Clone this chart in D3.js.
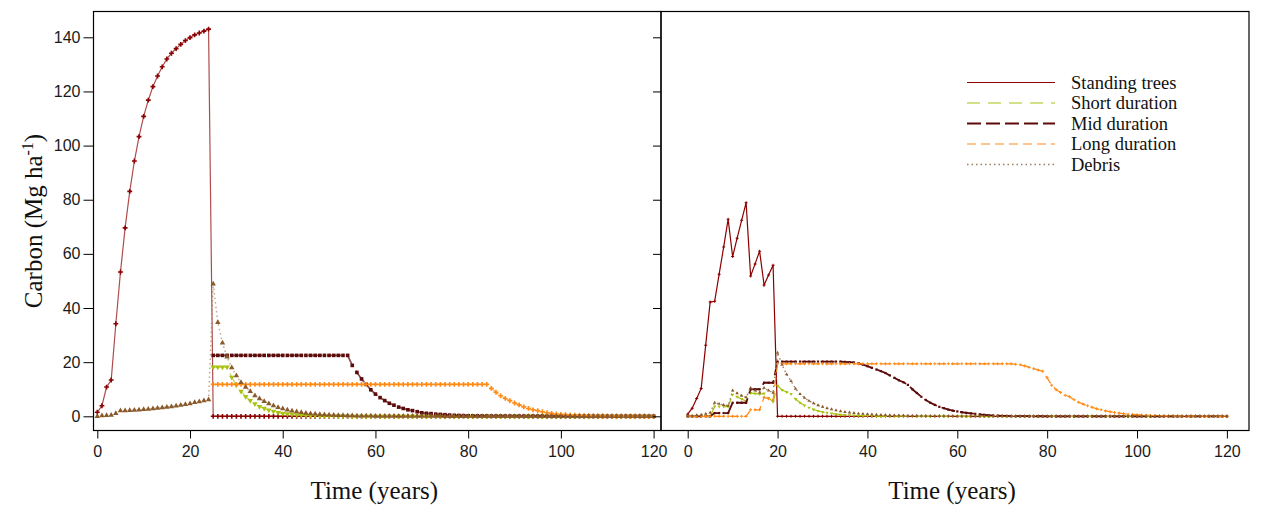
<!DOCTYPE html>
<html>
<head>
<meta charset="utf-8">
<title>Carbon pools</title>
<script src="https://d3js.org/d3.v7.min.js"></script>
<style>
	body {margin:0; background:#fff;}
	.tick text {font-family:"Liberation Sans Narrow","Liberation Sans",Arial,sans-serif; font-size:16px; fill:#1a1a1a;}
	.ttl {font-family:"Liberation Serif","Times New Roman",serif; font-size:25px; fill:#111;}
	.leg {font-family:"Liberation Serif","Times New Roman",serif; font-size:18.5px; fill:#111;}
</style>
</head>
<body>
<div id="chart"></div>
<script>
// years 0..120, one value per year
var years = d3.range(0, 121);
var xTicks = [0, 20, 40, 60, 80, 100, 120];
var yTicks = [0, 20, 40, 60, 80, 100, 120, 140];
var seriesNames = ["Standing trees", "Short duration", "Mid duration", "Long duration", "Debris"];

// left panel
var leftStanding = [
	1.5, 3.9, 10.8, 13.4, 34.2, 53.3, 69.6, 83.1, 94.3, 103.3,
	110.8, 116.8, 121.8, 125.7, 129.1, 132.0, 134.1, 135.8, 137.4, 138.8,
	139.9, 140.9, 141.6, 142.3, 143.0, 0, 0, 0, 0, 0,
	0, 0, 0, 0, 0, 0, 0, 0, 0, 0,
	0, 0, 0, 0, 0, 0, 0, 0, 0, 0,
	0, 0, 0, 0, 0, 0, 0, 0, 0, 0,
	0, 0, 0, 0, 0, 0, 0, 0, 0, 0,
	0, 0, 0, 0, 0, 0, 0, 0, 0, 0,
	0, 0, 0, 0, 0, 0, 0, 0, 0, 0,
	0, 0, 0, 0, 0, 0, 0, 0, 0, 0,
	0, 0, 0, 0, 0, 0, 0, 0, 0, 0,
	0, 0, 0, 0, 0, 0, 0, 0, 0, 0,
	0];
var leftShort = [
	null, null, null, null, null, null, null, null, null, null,
	null, null, null, null, null, null, null, null, null, null,
	null, null, null, null, null, 18.2, 18.2, 18.2, 18.2, 14.4,
	11.5, 9.2, 7.3, 5.8, 4.6, 3.6, 2.9, 2.3, 1.8, 1.4,
	1.1, 0.9, 0.7, 0.55, 0.45, 0.35, 0.28, 0.22, 0.17, 0.13,
	0.1, 0.08, 0.06, 0.05, 0.04, 0.03, 0.02, 0.02, 0.01, 0.01,
	0, 0, 0, 0, 0, 0, 0, 0, 0, 0,
	0, 0, 0, 0, 0, 0, 0, 0, 0, 0,
	0, 0, 0, 0, 0, 0, 0, 0, 0, 0,
	0, 0, 0, 0, 0, 0, 0, 0, 0, 0,
	0, 0, 0, 0, 0, 0, 0, 0, 0, 0,
	0, 0, 0, 0, 0, 0, 0, 0, 0, 0,
	0];
var leftMid = [
	null, null, null, null, null, null, null, null, null, null,
	null, null, null, null, null, null, null, null, null, null,
	null, null, null, null, null, 22.5, 22.5, 22.5, 22.5, 22.5,
	22.5, 22.5, 22.5, 22.5, 22.5, 22.5, 22.5, 22.5, 22.5, 22.5,
	22.5, 22.5, 22.5, 22.5, 22.5, 22.5, 22.5, 22.5, 22.5, 22.5,
	22.5, 22.5, 22.5, 22.5, 22.5, 18.8, 16.2, 13.8, 11.8, 9.8,
	8.2, 6.9, 5.8, 4.8, 4.1, 3.4, 2.9, 2.4, 2.1, 1.7,
	1.3, 1.1, 1.0, 0.8, 0.7, 0.6, 0.45, 0.35, 0.3, 0.25,
	0.2, 0.17, 0.14, 0.12, 0.1, 0.08, 0.07, 0.06, 0.05, 0.04,
	0.03, 0.03, 0.02, 0.02, 0.02, 0.01, 0.01, 0.01, 0, 0,
	0, 0, 0, 0, 0, 0, 0, 0, 0, 0,
	0, 0, 0, 0, 0, 0, 0, 0, 0, 0,
	0];
var leftLong = [
	null, null, null, null, null, null, null, null, null, null,
	null, null, null, null, null, null, null, null, null, null,
	null, null, null, null, null, 11.8, 11.8, 11.8, 11.8, 11.8,
	11.8, 11.8, 11.8, 11.8, 11.8, 11.8, 11.8, 11.8, 11.8, 11.8,
	11.8, 11.8, 11.8, 11.8, 11.8, 11.8, 11.8, 11.8, 11.8, 11.8,
	11.8, 11.8, 11.8, 11.8, 11.8, 11.8, 11.8, 11.8, 11.8, 11.8,
	11.8, 11.8, 11.8, 11.8, 11.8, 11.8, 11.8, 11.8, 11.8, 11.8,
	11.8, 11.8, 11.8, 11.8, 11.8, 11.8, 11.8, 11.8, 11.8, 11.8,
	11.8, 11.8, 11.8, 11.8, 11.8, 10.3, 8.9, 7.6, 6.6, 5.8,
	4.9, 4.2, 3.5, 2.9, 2.4, 2.1, 1.7, 1.3, 1.1, 0.85,
	0.7, 0.6, 0.5, 0.4, 0.3, 0.25, 0.2, 0.15, 0.12, 0.1,
	0.08, 0.06, 0.05, 0.04, 0.03, 0.02, 0.02, 0.01, 0.01, 0,
	0];
var leftDebris = [
	0, 0.2, 0.3, 0.4, 1.1, 2.1, 2.1, 2.2, 2.3, 2.4,
	2.5, 2.6, 2.8, 3.0, 3.2, 3.4, 3.6, 3.8, 4.1, 4.4,
	4.7, 5.1, 5.4, 5.8, 6.1, 48.9, 34.7, 27.1, 21.9, 18.0,
	15.0, 12.5, 10.8, 9.2, 7.6, 6.5, 5.5, 4.7, 3.9, 3.3,
	2.8, 2.4, 2.0, 1.7, 1.4, 1.2, 1.0, 0.85, 0.7, 0.6,
	0.5, 0.42, 0.36, 0.3, 0.25, 0.21, 0.18, 0.15, 0.13, 0.11,
	0.09, 0.08, 0.07, 0.06, 0.05, 0.04, 0.04, 0.03, 0.03, 0.02,
	0.02, 0.01, 0.01, 0.01, 0.01, 0, 0, 0, 0, 0,
	0, 0, 0, 0, 0, 0, 0, 0, 0, 0,
	0, 0, 0, 0, 0, 0, 0, 0, 0, 0,
	0, 0, 0, 0, 0, 0, 0, 0, 0, 0,
	0, 0, 0, 0, 0, 0, 0, 0, 0, 0,
	0];

// right panel
var rightStanding = [
	0.8, 3.0, 6.6, 10.3, 26.2, 42.2, 42.5, 52.5, 62.5, 72.8,
	59.0, 65.8, 72.4, 78.9, 51.8, 56.3, 61.0, 48.5, 52.2, 55.8,
	0, 0, 0, 0, 0, 0, 0, 0, 0, 0,
	0, 0, 0, 0, 0, 0, 0, 0, 0, 0,
	0, 0, 0, 0, 0, 0, 0, 0, 0, 0,
	0, 0, 0, 0, 0, 0, 0, 0, 0, 0,
	0, 0, 0, 0, 0, 0, 0, 0, 0, 0,
	0, 0, 0, 0, 0, 0, 0, 0, 0, 0,
	0, 0, 0, 0, 0, 0, 0, 0, 0, 0,
	0, 0, 0, 0, 0, 0, 0, 0, 0, 0,
	0, 0, 0, 0, 0, 0, 0, 0, 0, 0,
	0, 0, 0, 0, 0, 0, 0, 0, 0, 0,
	0];
var rightShort = [
	0, 0, 0, 0, 0, 0, 3.6, 3.6, 3.6, 3.6,
	8.0, 7.2, 6.4, 5.6, 8.6, 8.4, 8.2, 8.4, 6.8, 5.4,
	11.3, 9.7, 9.0, 8.2, 6.4, 5.0, 4.0, 3.2, 2.5, 2.0,
	1.6, 1.3, 1.0, 0.8, 0.6, 0.5, 0.4, 0.3, 0.25, 0.2,
	0.16, 0.13, 0.1, 0.08, 0.06, 0.05, 0.04, 0.03, 0.02, 0.02,
	0.01, 0, 0, 0, 0, 0, 0, 0, 0, 0,
	0, 0, 0, 0, 0, 0, 0, 0, 0, 0,
	0, 0, 0, 0, 0, 0, 0, 0, 0, 0,
	0, 0, 0, 0, 0, 0, 0, 0, 0, 0,
	0, 0, 0, 0, 0, 0, 0, 0, 0, 0,
	0, 0, 0, 0, 0, 0, 0, 0, 0, 0,
	0, 0, 0, 0, 0, 0, 0, 0, 0, 0,
	0];
var rightMid = [
	0, 0, 0, 0, 0, 0, 1.2, 1.2, 1.2, 1.2,
	5.0, 5.0, 5.0, 5.0, 10.0, 10.0, 10.0, 12.4, 12.4, 12.4,
	20.2, 20.2, 20.2, 20.2, 20.2, 20.2, 20.2, 20.2, 20.2, 20.2,
	20.2, 20.2, 20.2, 20.2, 20.2, 20.1, 20.0, 19.9, 19.6, 19.1,
	18.5, 17.9, 17.3, 16.7, 16.0, 15.1, 14.2, 13.3, 12.6, 11.6,
	10.0, 8.6, 7.2, 6.0, 5.0, 4.2, 3.5, 3.0, 2.5, 2.1,
	1.8, 1.5, 1.3, 1.1, 0.9, 0.7, 0.55, 0.4, 0.3, 0.22,
	0.16, 0.12, 0.09, 0.07, 0.05, 0.04, 0.03, 0.02, 0.02, 0.01,
	0, 0, 0, 0, 0, 0, 0, 0, 0, 0,
	0, 0, 0, 0, 0, 0, 0, 0, 0, 0,
	0, 0, 0, 0, 0, 0, 0, 0, 0, 0,
	0, 0, 0, 0, 0, 0, 0, 0, 0, 0,
	0];
var rightLong = [
	0, 0, 0, 0, 0, 0, 0, 0, 0, 0,
	0, 0, 0, 0, 2.4, 2.4, 2.4, 7.0, 6.5, 6.0,
	19.4, 19.4, 19.4, 19.4, 19.4, 19.4, 19.4, 19.4, 19.4, 19.4,
	19.4, 19.4, 19.4, 19.4, 19.4, 19.4, 19.4, 19.4, 19.4, 19.4,
	19.4, 19.4, 19.4, 19.4, 19.4, 19.4, 19.4, 19.4, 19.4, 19.4,
	19.4, 19.4, 19.4, 19.4, 19.4, 19.4, 19.4, 19.4, 19.4, 19.4,
	19.4, 19.4, 19.4, 19.4, 19.4, 19.4, 19.4, 19.4, 19.4, 19.4,
	19.4, 19.4, 19.4, 19.2, 19.0, 18.6, 18.1, 17.6, 17.1, 16.6,
	14.2, 11.5, 9.8, 8.8, 7.8, 7.2, 6.1, 5.2, 4.5, 3.9,
	3.3, 2.8, 2.4, 2.0, 1.7, 1.4, 1.2, 0.95, 0.8, 0.7,
	0.6, 0.5, 0.4, 0.3, 0.25, 0.2, 0.15, 0.12, 0.1, 0.08,
	0.06, 0.05, 0.04, 0.03, 0.02, 0.02, 0.01, 0, 0, 0,
	0];
var rightDebris = [
	0, 0.2, 0.4, 0.6, 0.9, 1.3, 5.0, 4.6, 4.2, 3.9,
	9.5, 8.5, 7.6, 7.0, 10.5, 9.5, 8.8, 10.5, 9.5, 8.7,
	23.5, 19.0, 15.5, 13.0, 10.2, 8.2, 6.8, 5.7, 4.8, 4.1,
	3.5, 3.0, 2.6, 2.2, 1.9, 1.6, 1.4, 1.2, 1.0, 0.9,
	0.8, 0.7, 0.6, 0.5, 0.45, 0.4, 0.35, 0.3, 0.27, 0.24,
	0.21, 0.18, 0.16, 0.14, 0.12, 0.1, 0.09, 0.08, 0.07, 0.06,
	0.05, 0.05, 0.04, 0.04, 0.03, 0.03, 0.02, 0.02, 0.02, 0.01,
	0.01, 0, 0, 0, 0, 0, 0, 0, 0, 0,
	0, 0, 0, 0, 0, 0, 0, 0, 0, 0,
	0, 0, 0, 0, 0, 0, 0, 0, 0, 0,
	0, 0, 0, 0, 0, 0, 0, 0, 0, 0,
	0, 0, 0, 0, 0, 0, 0, 0, 0, 0,
	0];

// styles per series (same order as seriesNames)
var styles = [
	{color:"#8B0000", marker:d3.symbolCross, flip:false, dash:null, lw:1.2, mcolor:"#8B0000"},
	{color:"#A9C210", marker:d3.symbolTriangle, flip:true, dash:"13,8", lw:1.2, mcolor:"#A9C210"},
	{color:"#5C0A0A", marker:d3.symbolSquare, flip:false, dash:"14,5", lw:1.8, mcolor:"#5C0A0A"},
	{color:"#FF8A14", marker:d3.symbolCross, flip:false, dash:"9,5", lw:1.2, mcolor:"#FF8A14"},
	{color:"#9A8060", marker:d3.symbolTriangle, flip:false, dash:"1.5,3", lw:1.4, mcolor:"#8B5A2B"}
];

var width = 1271, height = 512;
var svg = d3.select("#chart").append("svg")
	.attr("width", width)
	.attr("height", height);

var y = d3.scaleLinear().domain([0, 140]).range([416.3, 37.3]);

var panels = [
	{box:[93.5, 661], xr:[97.3, 653.6], data:[leftStanding, leftShort, leftMid, leftLong, leftDebris], msize:13, lineOp:0.7, labels:true, legend:false},
	{box:[661, 1249], xr:[687.7, 1226.9], data:[rightStanding, rightShort, rightMid, rightLong, rightDebris], msize:5, lineOp:1, labels:false, legend:true}
];

var plotTop = 11.5, plotBottom = 430.5;
var legendRows = [82.5, 103, 123.5, 144, 164.5];

panels.forEach(function(p) {
	var x = d3.scaleLinear().domain([0, 120]).range(p.xr);
	var g = svg.append("g");

	// series
	p.data.forEach(function(vals, si) {
		var st = styles[si];
		var pts = years.map(function(yr, i) { return {yr:yr, v:vals[i]}; });
		var line = d3.line()
			.defined(function(d) { return d.v != null; })
			.x(function(d) { return x(d.yr); })
			.y(function(d) { return y(d.v); });
		g.append("path")
			.attr("d", line(pts))
			.attr("fill", "none")
			.attr("stroke", st.color)
			.attr("stroke-opacity", p.lineOp)
			.attr("stroke-width", st.lw)
			.attr("stroke-dasharray", st.dash);
		g.selectAll(null)
			.data(pts.filter(function(d) { return d.v != null; }))
			.enter()
			.append("path")
			.attr("d", d3.symbol().type(st.marker).size(p.msize))
			.attr("transform", function(d) {
				return "translate(" + x(d.yr) + "," + y(d.v) + ")" + (st.flip ? " rotate(180)" : "");
			})
			.attr("fill", st.mcolor);
	});

	// box
	svg.append("rect")
		.attr("x", p.box[0]).attr("y", plotTop)
		.attr("width", p.box[1] - p.box[0]).attr("height", plotBottom - plotTop)
		.attr("fill", "none").attr("stroke", "#000").attr("stroke-width", 1.2);

	// x axis
	var xa = svg.append("g")
		.attr("transform", "translate(0," + plotBottom + ")")
		.call(d3.axisBottom(x).tickValues(xTicks).tickSize(8).tickPadding(7));
	xa.select(".domain").remove();

	// y axis
	var ya = svg.append("g")
		.attr("transform", "translate(" + p.box[0] + ",0)")
		.call(d3.axisLeft(y).tickValues(yTicks).tickSize(p.labels ? 10 : 8).tickPadding(3)
			.tickFormat(p.labels ? d3.format("d") : function() { return ""; }));
	ya.select(".domain").remove();

	// x title
	svg.append("text")
		.attr("class", "ttl")
		.attr("x", (p.box[0] + p.box[1]) / 2 - 3)
		.attr("y", 499)
		.attr("text-anchor", "middle")
		.text("Time (years)");

	if (p.legend) {
		var lg = svg.append("g").attr("transform", "translate(967,0)");
		seriesNames.forEach(function(name, i) {
			var st = styles[i];
			lg.append("line")
				.attr("x1", 0).attr("x2", 88)
				.attr("y1", legendRows[i]).attr("y2", legendRows[i])
				.attr("stroke", st.color)
				.attr("stroke-width", st.lw)
				.attr("stroke-dasharray", st.dash);
			lg.append("text")
				.attr("class", "leg")
				.attr("x", 104)
				.attr("y", legendRows[i] + 6)
				.text(name);
		});
	}
});

// y title
var yt = svg.append("text")
	.attr("class", "ttl")
	.attr("transform", "translate(42,221) rotate(-90)")
	.attr("text-anchor", "middle");
yt.append("tspan").text("Carbon (Mg ha");
yt.append("tspan").attr("dy", -9).attr("font-size", "16px").text("-1");
yt.append("tspan").attr("dy", 9).text(")");
</script>
</body>
</html>
